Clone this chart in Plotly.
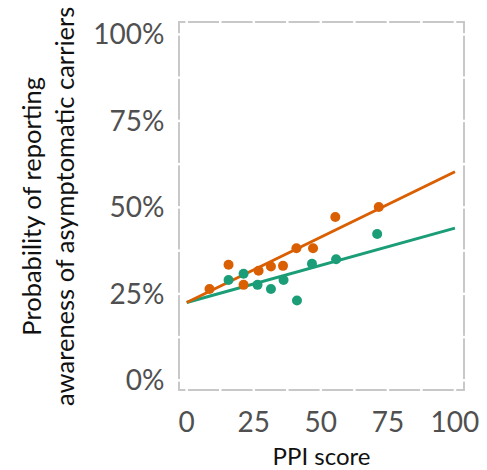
import plotly.graph_objects as go

# PPI score values (x) and probability (%) values for each group
orange_x = [8.5, 15.6, 21.2, 26.8, 31.4, 35.9, 40.9, 47.1, 55.4, 71.6]
orange_y = [26.4, 33.4, 27.6, 31.7, 32.9, 33.1, 38.2, 38.2, 47.2, 50.1]

green_x = [15.6, 21.2, 26.4, 31.4, 36.1, 41.1, 46.7, 55.7, 71.0]
green_y = [29.0, 30.8, 27.6, 26.4, 29.0, 23.1, 33.7, 35.0, 42.3]

fit_x = [0, 100]
orange_fit = [22.5, 60.3]
green_fit = [22.5, 44.0]

x_ticks = [0, 25, 50, 75, 100]
y_ticks = [0, 25, 50, 75, 100]
border_breaks = [0, 12.5, 25, 37.5, 50, 62.5, 75, 87.5, 100]

x_title = "PPI score"
y_title = "Probability of reporting<br>awareness of asymptomatic carriers"

ORANGE = "#d95f02"
GREEN = "#1b9e77"
BORDER = "#c8c8c8"
FONT = "Lato, Carlito, sans-serif"

fig = go.Figure()
fig.add_trace(go.Scatter(x=fit_x, y=green_fit, mode="lines",
                         line=dict(color=GREEN, width=3), showlegend=False, hoverinfo="skip"))
fig.add_trace(go.Scatter(x=fit_x, y=orange_fit, mode="lines",
                         line=dict(color=ORANGE, width=3), showlegend=False, hoverinfo="skip"))
fig.add_trace(go.Scatter(x=green_x, y=green_y, mode="markers",
                         marker=dict(color=GREEN, size=10), showlegend=False))
fig.add_trace(go.Scatter(x=orange_x, y=orange_y, mode="markers",
                         marker=dict(color=ORANGE, size=10), showlegend=False))

axis_common = dict(
    showgrid=False, zeroline=False, automargin=False,
    showline=True, linecolor=BORDER, linewidth=2, mirror=True,
    ticks="",
    tickfont=dict(family=FONT, size=28, color="#505050"),
)

fig.update_xaxes(range=[-2.5, 103], tickvals=x_ticks, ticktext=[str(v) for v in x_ticks],
                 ticklabelstandoff=7,
                 title=dict(text=x_title, font=dict(family=FONT, size=24, color="#111111"),
                            standoff=12),
                 **axis_common)
fig.update_yaxes(range=[-2.5, 103.3], tickvals=y_ticks, ticktext=[f"{v}%" for v in y_ticks],
                 ticklabelstandoff=8,
                 **axis_common)

fig.add_annotation(text=y_title, xref="paper", yref="paper", x=-0.470, y=0.5,
                   xanchor="center", yanchor="middle", textangle=-90, showarrow=False,
                   font=dict(family=FONT, size=25.5, color="#111111"))

# small breaks in the frame at every 12.5 units (drawn above the frame)
shapes = []
for b in border_breaks:
    for (p0, p1) in [(-0.012, 0.012), (0.988, 1.012)]:
        shapes.append(dict(type="line", xref="x", yref="paper", x0=b, x1=b, y0=p0, y1=p1,
                           line=dict(color="white", width=2.5), layer="above"))
        shapes.append(dict(type="line", xref="paper", yref="y", x0=p0, x1=p1, y0=b, y1=b,
                           line=dict(color="white", width=2.5), layer="above"))

fig.update_layout(
    width=487, height=470,
    margin=dict(l=180, r=24, t=23, b=81, autoexpand=False),
    paper_bgcolor="white", plot_bgcolor="white",
    shapes=shapes,
)

fig.write_html("out.html", config={"displayModeBar": False},
               post_script="document.body.style.margin='0';document.body.style.overflow='hidden';")
